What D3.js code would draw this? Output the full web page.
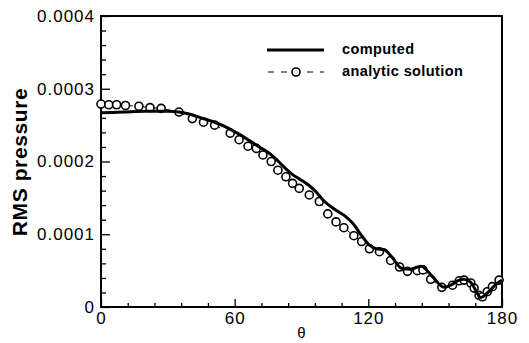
<!DOCTYPE html>
<html>
<head>
<meta charset="utf-8">
<script src="https://cdn.jsdelivr.net/npm/d3@7"></script>
<style>
  body { margin: 0; background: #fff; }
  svg { display: block; }
  .tick text { font-family: "Liberation Sans", Arial, sans-serif; font-size: 17px; letter-spacing: 1px; fill: #000; }
</style>
</head>
<body>
<svg id="chart" width="529" height="343"></svg>
<script>
// theta (deg) and RMS pressure
const computedTheta = [0, 10, 20, 30, 35, 40, 45, 50, 55, 60, 64, 67, 70, 75.7, 80, 83, 86, 89, 93, 96.6,
  100, 104, 107, 110, 113, 117, 120.5, 123.6, 127, 131, 135, 139, 143.7, 148.7, 154, 157.6, 160, 163,
  166, 168, 170.5, 173, 175.6, 178, 180];
const computedP = [2.67, 2.68, 2.69, 2.69, 2.68, 2.65, 2.60, 2.55, 2.49, 2.41, 2.34, 2.28, 2.22, 2.11, 1.99,
  1.90, 1.82, 1.76, 1.68, 1.58, 1.46, 1.36, 1.30, 1.24, 1.15, 0.98, 0.85, 0.80, 0.79, 0.67, 0.53, 0.52,
  0.56, 0.42, 0.27, 0.31, 0.36, 0.38, 0.34, 0.24, 0.13, 0.18, 0.26, 0.33, 0.37].map(v => v * 1e-4);

const analyticTheta = [0, 3.5, 7, 11, 17, 22, 27, 35, 41, 46, 51, 58, 62, 66, 69.7, 72.7, 76.4, 79.4, 83,
  86, 89, 93.5, 98, 101.8, 105.5, 109, 113.5, 117, 120.5, 125, 130, 134, 137.6, 142, 144.5, 148, 153,
  157.8, 160.8, 163, 166, 167.5, 169.7, 171.2, 173.4, 175.7, 178.7];
const analyticP = [2.79, 2.78, 2.78, 2.77, 2.76, 2.74, 2.73, 2.68, 2.59, 2.54, 2.50, 2.39, 2.30, 2.21, 2.18,
  2.09, 2.00, 1.88, 1.79, 1.70, 1.63, 1.54, 1.45, 1.28, 1.17, 1.09, 0.98, 0.90, 0.80, 0.76, 0.64, 0.55,
  0.49, 0.50, 0.51, 0.38, 0.27, 0.30, 0.36, 0.37, 0.33, 0.26, 0.16, 0.14, 0.21, 0.28, 0.37].map(v => v * 1e-4);

const xMajor = [0, 60, 120, 180];
const yMajor = [0, 0.0001, 0.0002, 0.0003, 0.0004];
const yTickLabels = ['0', '0.0001', '0.0002', '0.0003', '0.0004'];
const legendLabels = ['computed', 'analytic solution'];

const svg = d3.select('#chart');
const mLeft = 101, mRight = 502, mTop = 16, mBottom = 307;

const x = d3.scaleLinear().domain([0, 180]).range([mLeft, mRight]);
const y = d3.scaleLinear().domain([0, 0.0004]).range([mBottom, mTop]);

const xMinor = d3.range(0, 181, 12).filter(d => !xMajor.includes(d));
const yMinor = d3.range(0, 0.00040001, 0.00002).filter(d => !yMajor.some(m => Math.abs(m - d) < 1e-9));

// minor ticks
svg.append('g')
  .attr('transform', 'translate(0,' + mBottom + ')')
  .call(d3.axisBottom(x).tickValues(xMinor).tickSize(-4).tickFormat(''))
  .call(g => g.select('.domain').remove());
svg.append('g')
  .attr('transform', 'translate(' + mLeft + ',0)')
  .call(d3.axisLeft(y).tickValues(yMinor).tickSize(-5).tickFormat(''))
  .call(g => g.select('.domain').remove());

// major ticks
svg.append('g')
  .attr('transform', 'translate(0,' + mBottom + ')')
  .call(d3.axisBottom(x).tickValues(xMajor).tickSize(-8).tickPadding(5).tickFormat(d3.format('d')))
  .call(g => g.select('.domain').remove());
svg.append('g')
  .attr('transform', 'translate(' + mLeft + ',0)')
  .call(d3.axisLeft(y).tickValues(yMajor).tickSize(-9).tickPadding(6).tickFormat((d, i) => yTickLabels[i]))
  .call(g => g.select('.domain').remove());

svg.selectAll('.tick line').attr('stroke', '#000').attr('stroke-width', 1.3);

// frame
svg.append('rect')
  .attr('x', mLeft).attr('y', mTop)
  .attr('width', mRight - mLeft).attr('height', mBottom - mTop)
  .attr('fill', 'none').attr('stroke', '#000').attr('stroke-width', 2);

const analytic = analyticTheta.map((t, i) => [t, analyticP[i]]);
const computed = computedTheta.map((t, i) => [t, computedP[i]]);

svg.append('path')
  .datum(analytic)
  .attr('fill', 'none').attr('stroke', '#000').attr('stroke-width', 1)
  .attr('stroke-dasharray', '6,7')
  .attr('d', d3.line().x(d => x(d[0])).y(d => y(d[1])));

svg.selectAll('circle.an')
  .data(analytic)
  .join('circle')
  .attr('class', 'an')
  .attr('cx', d => x(d[0])).attr('cy', d => y(d[1])).attr('r', 4)
  .attr('fill', '#fff').attr('stroke', '#000').attr('stroke-width', 1.6);

svg.append('path')
  .datum(computed)
  .attr('fill', 'none').attr('stroke', '#000').attr('stroke-width', 3)
  .attr('d', d3.line().curve(d3.curveMonotoneX).x(d => x(d[0])).y(d => y(d[1])));

// legend
const legend = svg.append('g');
legend.append('line')
  .attr('x1', 267).attr('x2', 324).attr('y1', 50).attr('y2', 50)
  .attr('stroke', '#000').attr('stroke-width', 3);
legend.append('line')
  .attr('x1', 268).attr('x2', 324).attr('y1', 72).attr('y2', 72)
  .attr('stroke', '#000').attr('stroke-width', 1).attr('stroke-dasharray', '6,7');
legend.append('circle')
  .attr('cx', 296).attr('cy', 72).attr('r', 4)
  .attr('fill', '#fff').attr('stroke', '#000').attr('stroke-width', 1.6);
legend.selectAll('text')
  .data(legendLabels)
  .join('text')
  .attr('x', 342).attr('y', (d, i) => 54 + i * 21.5)
  .attr('font-family', '"Liberation Sans", Arial, sans-serif')
  .attr('font-size', 14.5).attr('font-weight', 'bold')
  .attr('letter-spacing', 0.4)
  .text(d => d);

// axis titles
svg.append('text')
  .attr('x', (mLeft + mRight) / 2).attr('y', 338)
  .attr('text-anchor', 'middle')
  .attr('font-family', '"Liberation Sans", Arial, sans-serif')
  .attr('font-size', 15)
  .text('θ');

svg.append('text')
  .attr('transform', 'translate(27,162) rotate(-90)')
  .attr('text-anchor', 'middle')
  .attr('font-family', '"Liberation Sans", Arial, sans-serif')
  .attr('font-size', 21).attr('font-weight', 'bold')
  .attr('letter-spacing', 0.6)
  .text('RMS pressure');
</script>
</body>
</html>
